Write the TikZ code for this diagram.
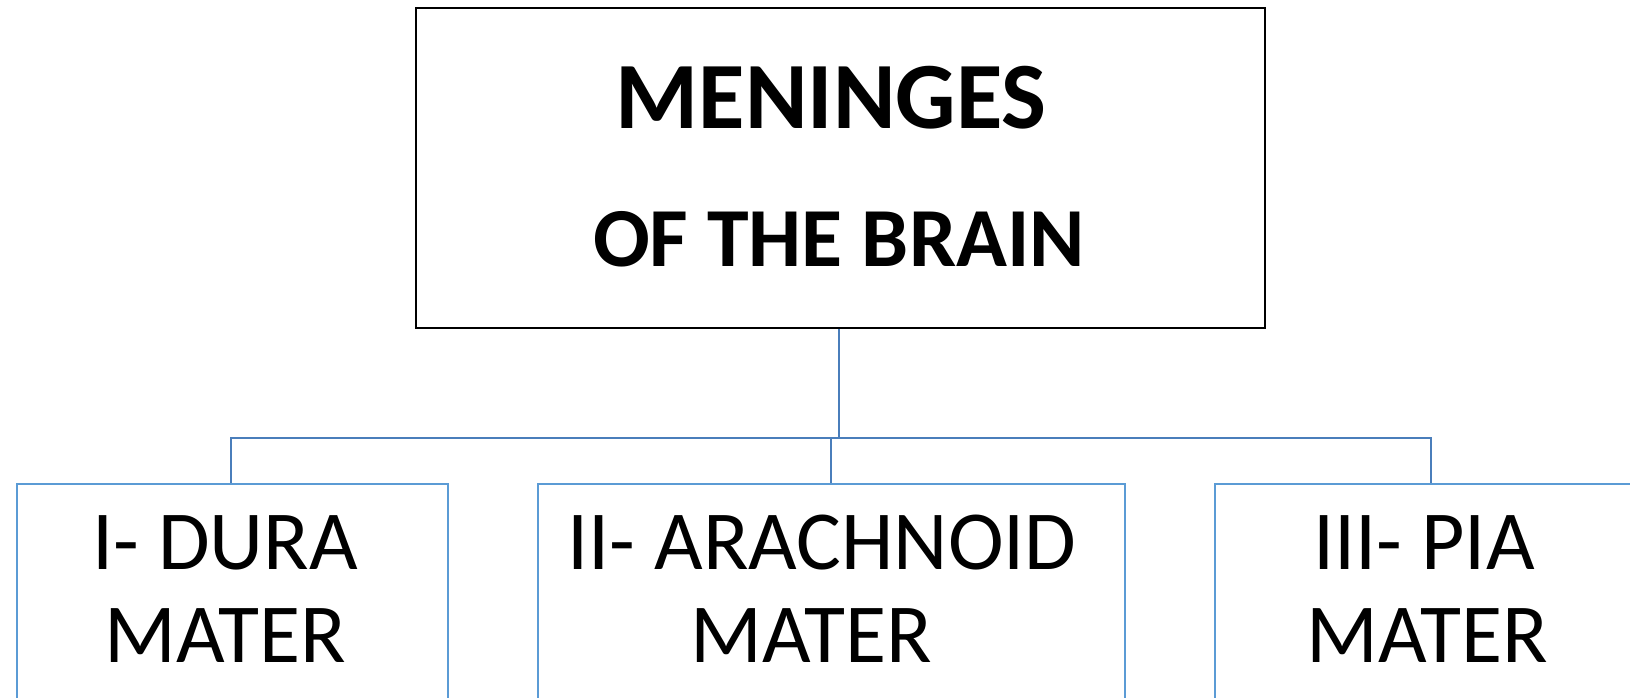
\documentclass[tikz,border=0pt]{standalone}
\usepackage{fontspec}
\setmainfont{Carlito}
\begin{document}
\begin{tikzpicture}[x=1pt,y=-1pt,
  topbox/.style={draw=black, line width=2.4pt, rectangle, inner sep=0pt, anchor=north west},
  childbox/.style={draw=boxblue, line width=2.4pt, rectangle, inner sep=0pt, anchor=north west},
  conn/.style={draw=linkblue, line width=2.4pt},
  ttl/.style={font=\fontsize{95}{100}\selectfont\bfseries, anchor=base, inner sep=0pt},
  ttlb/.style={font=\fontsize{84}{90}\selectfont\bfseries, anchor=base, inner sep=0pt},
  lbl/.style={font=\fontsize{84}{93}\selectfont, anchor=base, inner sep=0pt}]
\definecolor{boxblue}{RGB}{91,155,213}
\definecolor{linkblue}{RGB}{74,126,187}
\useasboundingbox (0,0) rectangle (1630,697);
\clip (0,0) rectangle (1630,697);
\fill[white] (0,0) rectangle (1630,697);
% top box
\node[topbox, minimum width=849pt, minimum height=320pt] (top) at (415,7) {};
\node[ttl] (t1) at (831,128) {MENINGES};
\node[ttlb] (t2) at (839,266) {OF THE BRAIN};
% child boxes
\node[childbox, minimum width=431pt, minimum height=260pt] (dura) at (16,483) {};
\node[childbox, minimum width=587pt, minimum height=260pt] (arach) at (537,483) {};
\node[childbox, minimum width=587pt, minimum height=260pt] (pia) at (1214,483) {};
% labels
\node[lbl] (d1) at (225,569) {I- DURA};
\node[lbl] (d2) at (225,662) {MATER};
\node[lbl] (a1) at (822,569) {II- ARACHNOID};
\node[lbl] (a2) at (811,662) {MATER};
\node[lbl] (p1) at (1424,569) {III- PIA};
\node[lbl] (p2) at (1427,662) {MATER};
% connectors
\coordinate (bus) at (839,438);
\draw[conn] (top.south -| bus) -- (bus);
\draw[conn] (dura.north -| 231,0) |- (bus) -| (pia.north -| 1431,0);
\draw[conn] (arach.north -| 831,0) -- (831,438);
\end{tikzpicture}
\end{document}
